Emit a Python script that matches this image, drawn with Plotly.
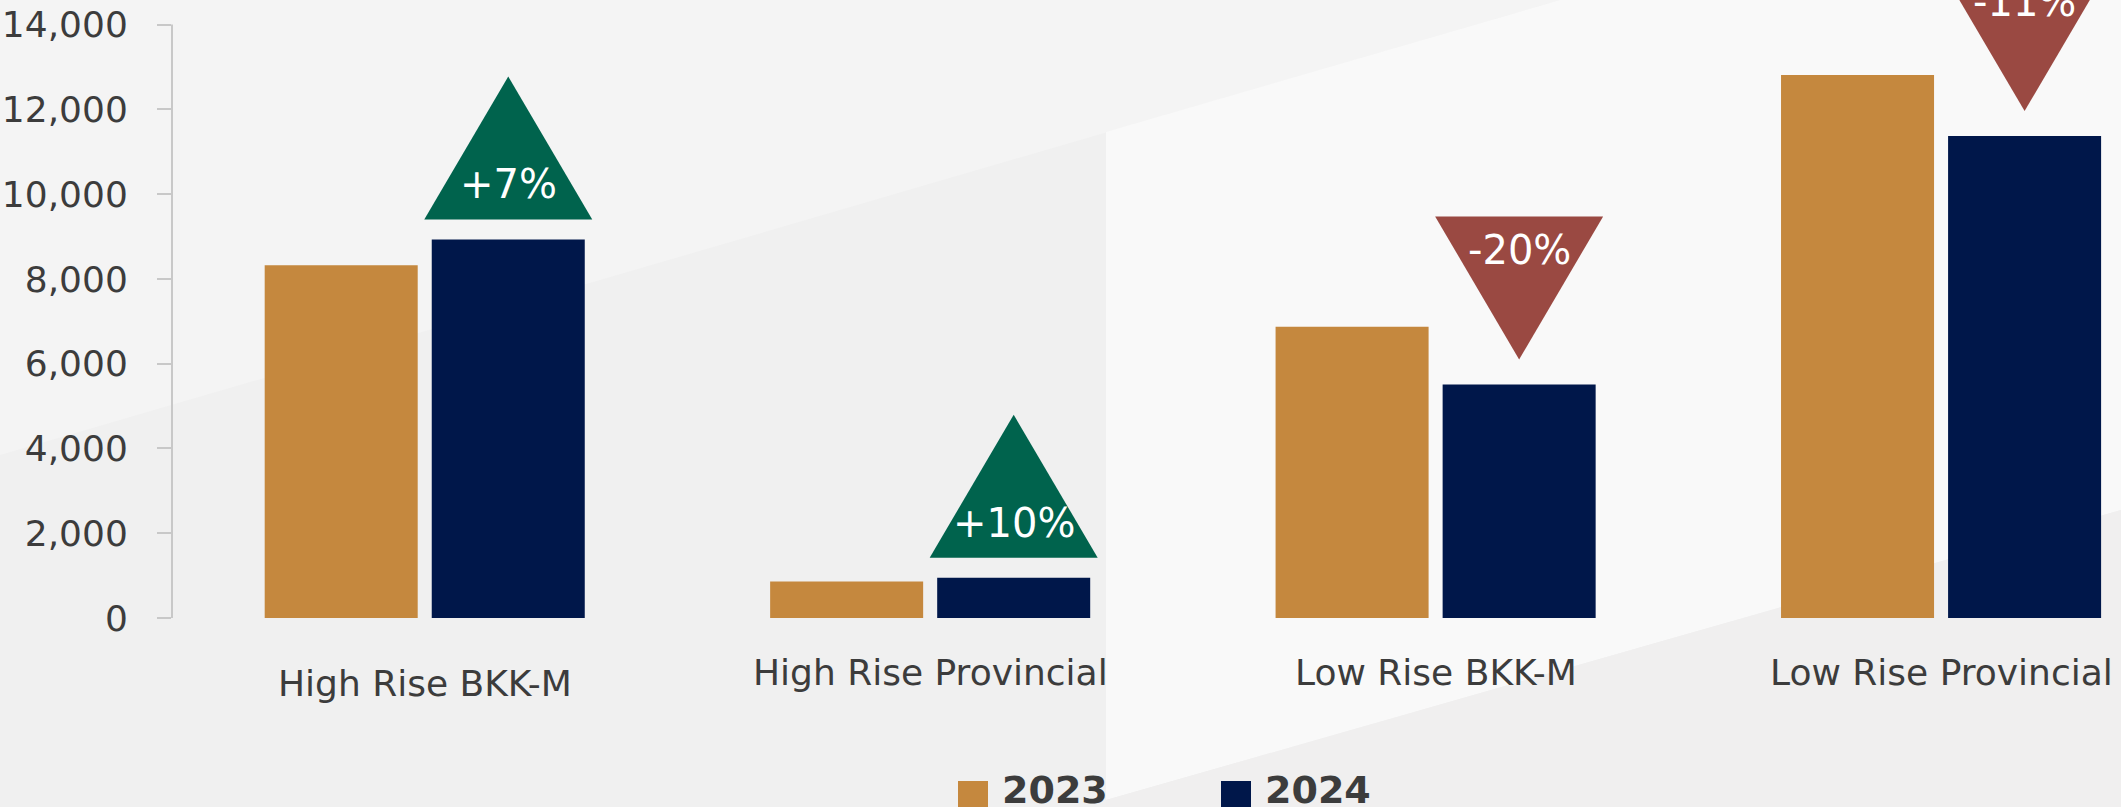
import plotly.graph_objects as go

# ---------------- data ----------------
categories = ["High Rise BKK-M", "High Rise Provincial", "Low Rise BKK-M", "Low Rise Provincial"]
series_names = ["2023", "2024"]
values_2023 = [8320, 860, 6870, 12810]
values_2024 = [8930, 950, 5510, 11370]
change_labels = ["+7%", "+10%", "-20%", "-11%"]
y_tick_values = [0, 2000, 4000, 6000, 8000, 10000, 12000, 14000]

# ---------------- style ----------------
W, H = 2121, 807
ML, MR, MT, MB = 172, 0, 0, 189
PW, PH = W - ML - MR, H - MT - MB
C2023 = "#c5883e"
C2024 = "#00174a"
UP_C = "#00634d"
DOWN_C = "#9a4942"
TXT = "#3c3c3c"
AXC = "#c8c8c8"
FONT = "DejaVu Sans"
BARGAP = 0.339
BARGROUPGAP = 0.084
Y_MAX = 14580

def px(xp):
    return (xp - ML) / PW

def py(yp):
    return (MT + PH - yp) / PH

fig = go.Figure()
fig.add_trace(go.Bar(x=categories, y=values_2023, name=series_names[0],
                     marker=dict(color=C2023, line=dict(width=0))))
fig.add_trace(go.Bar(x=categories, y=values_2024, name=series_names[1],
                     marker=dict(color=C2024, line=dict(width=0))))

shapes = []
def poly(points, color):
    path = "M " + " L ".join(f"{px(a):.5f},{py(b):.5f}" for a, b in points) + " Z"
    return dict(type="path", xref="paper", yref="paper", path=path,
                fillcolor=color, line=dict(width=0), layer="below")

shapes.append(poly([(0, 0), (1560, 0), (0, 455)], "#f4f4f4"))
shapes.append(poly([(1106, 132), (1560, 0), (2121, 0), (2121, 510), (1106, 800)], "#f9f9f9"))
shapes.append(poly([(1106, 800), (2121, 510), (2121, 807), (1106, 807)], "#f0efef"))

# y axis line from 0 to top tick
shapes.append(dict(type="line", xref="paper", yref="y", x0=0, x1=0,
                   y0=y_tick_values[0], y1=y_tick_values[-1],
                   line=dict(color=AXC, width=2)))

# change triangles anchored on 2024 bars
offset_2024 = (1 - BARGAP) / 4
TW, TH = 168, 143
annotations = []
for i, (v, lab) in enumerate(zip(values_2024, change_labels)):
    xa = i + offset_2024
    up = not lab.startswith("-")
    if up:
        g = 20
        path = f"M {-TW/2},{g} L {TW/2},{g} L 0,{g+TH} Z"
        color = UP_C
        ys = 55
    else:
        g = 25
        path = f"M {-TW/2},{g+TH} L {TW/2},{g+TH} L 0,{g} Z"
        color = DOWN_C
        ys = 134
    shapes.append(dict(type="path", xref="x", yref="y", xsizemode="pixel",
                       ysizemode="pixel", xanchor=xa, yanchor=v, path=path,
                       fillcolor=color, line=dict(width=0), layer="above"))
    annotations.append(dict(x=xa, y=v, xref="x", yref="y", text=lab,
                            showarrow=False, yshift=ys, xanchor="center",
                            yanchor="middle",
                            font=dict(family=FONT, size=40, color="white")))

# category labels
for i, c in enumerate(categories):
    annotations.append(dict(x=i, xref="x", y=py(683 if i == 0 else 672), yref="paper",
                            text=c, showarrow=False, xanchor="center", yanchor="middle",
                            font=dict(family=FONT, size=36, color=TXT)))

# manual legend
leg_x = [958, 1221]
leg_cols = [C2023, C2024]
for name, lx, col in zip(series_names, leg_x, leg_cols):
    shapes.append(dict(type="rect", xref="paper", yref="paper",
                       x0=px(lx), x1=px(lx + 30), y0=py(781), y1=py(811),
                       fillcolor=col, line=dict(width=0)))
    annotations.append(dict(x=px(lx + 42), y=py(790), xref="paper", yref="paper",
                            text=name, showarrow=False, xanchor="left", yanchor="middle",
                            font=dict(family=FONT, size=38, color=TXT, weight="bold")))

fig.update_layout(
    width=W, height=H,
    margin=dict(l=ML, r=MR, t=MT, b=MB, pad=0),
    paper_bgcolor="#f0f0f0",
    plot_bgcolor="rgba(0,0,0,0)",
    barmode="group", bargap=BARGAP, bargroupgap=BARGROUPGAP,
    showlegend=False,
    shapes=shapes,
    annotations=annotations,
    xaxis=dict(type="category", range=[-0.5, 3.356], showticklabels=False,
               showgrid=False, zeroline=False, showline=False, ticks=""),
    yaxis=dict(range=[0, Y_MAX], tickvals=y_tick_values, tickformat=",",
               showgrid=False, zeroline=False, showline=False,
               ticks="outside", ticklen=14, tickwidth=2, tickcolor=AXC,
               ticklabelstandoff=22,
               tickfont=dict(family=FONT, size=36, color=TXT)),
)

fig.write_html("out.html", config={"displayModeBar": False},
               post_script="document.body.style.margin='0';document.body.style.overflow='hidden';")
